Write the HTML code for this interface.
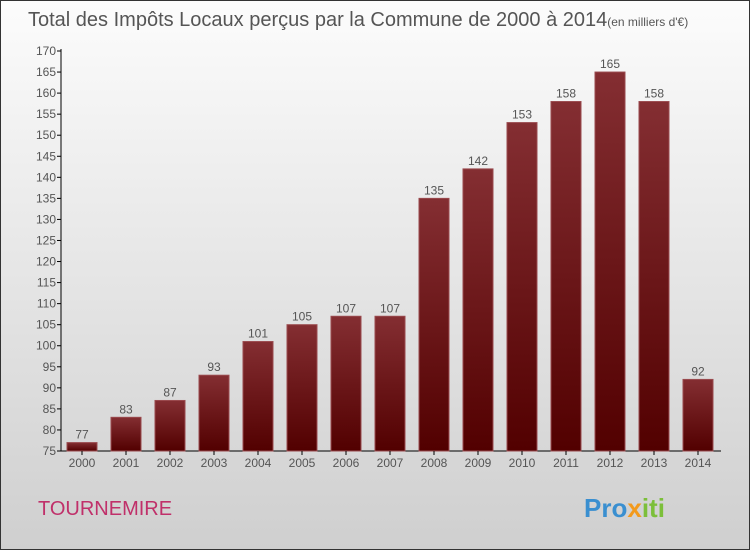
<!DOCTYPE html>
<html><head><meta charset="utf-8"><style>
body{margin:0}
#c{width:748px;height:548px;border:1px solid #333;background:linear-gradient(#fcfcfc,#cfcfcf);position:relative;font-family:"Liberation Sans",sans-serif;overflow:hidden}
</style></head><body>
<div id="c">
<svg width="748" height="548">
<defs><linearGradient id="g" x1="0" y1="0" x2="0" y2="1"><stop offset="0" stop-color="#842e32"/><stop offset="1" stop-color="#520000"/></linearGradient></defs>
<text x="27" y="25" font-size="20" fill="#555">Total des Impôts Locaux perçus par la Commune de 2000 à 2014<tspan font-size="12">(en milliers d'€)</tspan></text>
<g id="plot"></g>
<text x="37" y="514" font-size="20" fill="#c0306a">TOURNEMIRE</text>
<text x="583" y="516" font-size="26" font-weight="bold" fill="#3a8fd0">Pro<tspan fill="#f39a1c">x</tspan><tspan fill="#7cbf3a">iti</tspan></text>
</svg></div>
<script>
const years=["2000","2001","2002","2003","2004","2005","2006","2007","2008","2009","2010","2011","2012","2013","2014"];
const values=[77,83,87,93,101,105,107,107,135,142,153,158,165,158,92];
const yTicks=[75,80,85,90,95,100,105,110,115,120,125,130,135,140,145,150,155,160,165,170];
const NS="http://www.w3.org/2000/svg",p=document.getElementById('plot');
const y=v=>450-(v-75)*400/95, x=i=>81+i*44;
function mk(t,a){const e=document.createElementNS(NS,t);for(const k in a)e.setAttribute(k,a[k]);p.appendChild(e);return e;}
const ax=mk('path',{d:'M60,48V450H720',stroke:'#000',fill:'none'});


yTicks.forEach(v=>{
 mk('line',{x1:56,x2:60,y1:y(v),y2:y(v),stroke:'#000'});
 const t=mk('text',{x:55,y:y(v)+4,'font-size':12,fill:'#555','text-anchor':'end'});t.textContent=v;
 
 
});
years.forEach((yr,i)=>{
 const b=mk('rect',{x:x(i)-15,y:y(values[i]),width:30,height:450-y(values[i]),fill:'url(#g)',stroke:'#9a4a4e','stroke-width':1});
 
 
 mk('line',{x1:x(i),x2:x(i),y1:450,y2:454,stroke:'#000'});
 const t=mk('text',{x:x(i),y:466,'font-size':12,fill:'#555','text-anchor':'middle'});t.textContent=yr;
 
 
 const l=mk('text',{x:x(i),y:y(values[i])-4,'font-size':12,fill:'#555','text-anchor':'middle'});l.textContent=values[i];
 
 
});
</script>
</body></html>
